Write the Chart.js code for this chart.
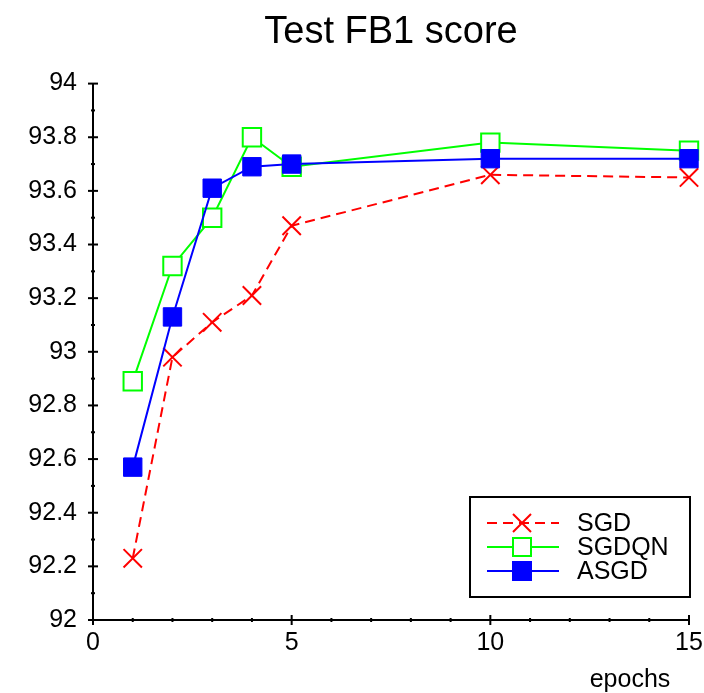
<!DOCTYPE html>
<html>
<head>
<meta charset="utf-8">
<script src="https://cdn.jsdelivr.net/npm/chart.js@4.4.0/dist/chart.umd.min.js"></script>
<style>
  html, body { margin: 0; padding: 0; background: #fff; }
  #wrap { width: 704px; height: 693px; }
</style>
</head>
<body>
<div id="wrap"><canvas id="fb1-chart"></canvas></div>
<script>
'use strict';

// **** Data ****

let epochs = [1, 2, 3, 4, 5, 10, 15];
let sgdScores = [92.23, 92.98, 93.11, 93.21, 93.47, 93.66, 93.65];
let sgdqnScores = [92.89, 93.32, 93.50, 93.80, 93.69, 93.78, 93.75];
let asgdScores = [92.57, 93.13, 93.61, 93.69, 93.70, 93.72, 93.72];

let xTicks = [0, 5, 10, 15];
let yMin = 92;
let yMax = 94;
let yStep = 0.2;

let fontFamily = '"Liberation Sans", Arial, sans-serif';

function toPoints(values) {
  return values.map((v, i) => ({ x: epochs[i], y: v }));
}

// **** Plugins ****

// major / minor tick marks crossing the axis lines
let tickMarks = {
  id: 'tickMarks',
  afterDraw(chart) {
    let ctx = chart.ctx;
    let xs = chart.scales.x;
    let ys = chart.scales.y;
    let area = chart.chartArea;
    ctx.save();
    ctx.strokeStyle = '#000';
    ctx.lineWidth = 2;

    for (let v = yMin; v <= yMax + 1e-9; v += yStep / 2) {
      let major = Math.abs(Math.round(v * 10) % 2) === 0;
      let py = ys.getPixelForValue(v);
      let len = major ? 5 : 2;
      ctx.beginPath();
      ctx.moveTo(area.left - len, py);
      ctx.lineTo(area.left + len, py);
      ctx.stroke();
    }

    for (let v = xs.min; v <= xs.max; v++) {
      let major = xTicks.includes(v);
      let px = xs.getPixelForValue(v);
      let len = major ? 5 : 2;
      ctx.beginPath();
      ctx.moveTo(px, area.bottom - len);
      ctx.lineTo(px, area.bottom + len);
      ctx.stroke();
    }

    // axis caption
    ctx.fillStyle = '#000';
    ctx.font = '25px ' + fontFamily;
    ctx.textAlign = 'center';
    ctx.textBaseline = 'alphabetic';
    ctx.fillText('epochs', area.right - 59, 687);
    ctx.restore();
  }
};

function drawMarker(ctx, style, x, y) {
  let half = 9;
  ctx.setLineDash([]);
  if (style.pointStyle === 'crossRot') {
    ctx.strokeStyle = style.borderColor;
    ctx.lineWidth = 2;
    ctx.beginPath();
    ctx.moveTo(x - half, y - half);
    ctx.lineTo(x + half, y + half);
    ctx.moveTo(x + half, y - half);
    ctx.lineTo(x - half, y + half);
    ctx.stroke();
  } else {
    ctx.fillStyle = style.pointBackgroundColor;
    ctx.fillRect(x - half, y - half, half * 2, half * 2);
    ctx.strokeStyle = style.borderColor;
    ctx.lineWidth = 2;
    ctx.strokeRect(x - half, y - half, half * 2, half * 2);
  }
}

// boxed legend in the lower right corner
let boxLegend = {
  id: 'boxLegend',
  afterDraw(chart) {
    let ctx = chart.ctx;
    let area = chart.chartArea;
    let right = area.right + 1;
    let left = right - 220;
    let top = 497;
    let bottom = 597;
    ctx.save();
    ctx.fillStyle = '#fff';
    ctx.fillRect(left, top, right - left, bottom - top);
    ctx.strokeStyle = '#000';
    ctx.lineWidth = 2;
    ctx.strokeRect(left, top, right - left, bottom - top);

    chart.data.datasets.forEach((ds, i) => {
      let y = 523 + i * 24;
      ctx.strokeStyle = ds.borderColor;
      ctx.lineWidth = ds.borderWidth;
      ctx.setLineDash(ds.borderDash || []);
      ctx.beginPath();
      ctx.moveTo(left + 17, y);
      ctx.lineTo(left + 89, y);
      ctx.stroke();
      drawMarker(ctx, ds, left + 52, y);

      ctx.fillStyle = '#000';
      ctx.font = '25px ' + fontFamily;
      ctx.textAlign = 'left';
      ctx.textBaseline = 'middle';
      ctx.fillText(ds.label, left + 107, y + 1);
    });
    ctx.restore();
  }
};

// **** Chart ****

Chart.defaults.color = '#000';
Chart.defaults.font.family = fontFamily;

let ctx = document.getElementById('fb1-chart').getContext('2d');

let myChartObj = {
  type: 'line',
  data: {
    datasets: [{
      label: 'SGD',
      data: toPoints(sgdScores),
      borderColor: '#ff0000',
      borderWidth: 2,
      borderDash: [10, 6],
      pointStyle: 'crossRot',
      pointRadius: 13,
      pointBorderWidth: 2,
      pointBackgroundColor: '#ff0000',
      clip: false,
      order: 2
    },
    {
      label: 'SGDQN',
      data: toPoints(sgdqnScores),
      borderColor: '#00ff00',
      borderWidth: 2,
      pointStyle: 'rect',
      pointRadius: 13,
      pointBorderWidth: 2,
      pointBackgroundColor: '#ffffff',
      clip: false,
      order: 1
    },
    {
      label: 'ASGD',
      data: toPoints(asgdScores),
      borderColor: '#0000ff',
      borderWidth: 2,
      pointStyle: 'rect',
      pointRadius: 13,
      pointBorderWidth: 1,
      pointBackgroundColor: '#0000ff',
      clip: false,
      order: 0
    }]
  },
  options: {
    responsive: true,
    maintainAspectRatio: false,
    animation: false,
    layout: {
      padding: { left: 0, right: 0, top: 0, bottom: 0 }
    },
    plugins: {
      legend: { display: false },
      tooltip: { enabled: false },
      title: {
        display: true,
        text: 'Test FB1 score',
        fullSize: false,
        font: { size: 38, weight: 'normal' },
        padding: { top: 10, bottom: 28 }
      }
    },
    scales: {
      x: {
        type: 'linear',
        min: 0,
        max: 15,
        afterBuildTicks(scale) {
          scale.ticks = xTicks.map(v => ({ value: v }));
        },
        afterFit(scale) {
          scale.height = 73;
          scale.paddingRight = 15;
        },
        grid: { display: false, drawTicks: false },
        border: { display: true, color: '#000', width: 2 },
        ticks: {
          font: { size: 25 },
          padding: 8,
          maxRotation: 0
        }
      },
      y: {
        min: yMin,
        max: yMax,
        afterFit(scale) {
          scale.width = 93;
        },
        grid: { display: false, drawTicks: false },
        border: { display: true, color: '#000', width: 2 },
        ticks: {
          stepSize: yStep,
          font: { size: 25 },
          padding: 16,
          callback: v => String(Math.round(v * 10) / 10)
        }
      }
    }
  },
  plugins: [tickMarks, boxLegend]
};

new Chart(ctx, myChartObj);
</script>
</body>
</html>
